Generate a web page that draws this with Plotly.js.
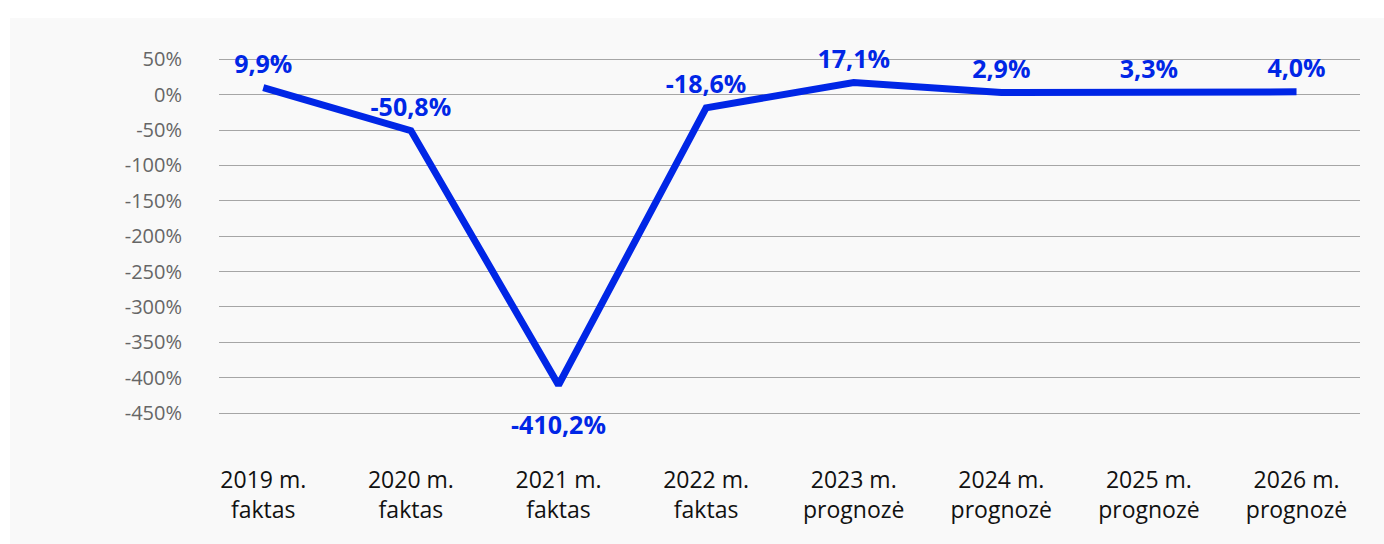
<!DOCTYPE html>
<html>
<head>
<meta charset="utf-8">
<script src="https://cdn.plot.ly/plotly-3.0.1.min.js"></script>
<style>
html,body{margin:0;padding:0;background:#ffffff;width:1384px;height:544px;overflow:hidden;}
#chart{position:absolute;left:10px;top:18px;width:1374px;height:526px;}
</style>
</head>
<body>
<div id="chart"></div>
<script>
const categories = ["2019 m.<br>faktas","2020 m.<br>faktas","2021 m.<br>faktas","2022 m.<br>faktas","2023 m.<br>prognozė","2024 m.<br>prognozė","2025 m.<br>prognozė","2026 m.<br>prognozė"];
const values = [9.9, -50.8, -410.2, -18.6, 17.1, 2.9, 3.3, 4.0];
const valueLabels = ["9,9%","-50,8%","-410,2%","-18,6%","17,1%","2,9%","3,3%","4,0%"];
const yTickVals = [50,0,-50,-100,-150,-200,-250,-300,-350,-400,-450];
const yTickText = ["50%","0%","-50%","-100%","-150%","-200%","-250%","-300%","-350%","-400%","-450%"];

const xIdx = categories.map((c,i)=>i);
const textPos = values.map(v => v < -300 ? "bottom center" : "top center");
const markerSizes = values.map(v => v < -300 ? 46 : 12);

const trace = {
  x: xIdx,
  y: values,
  mode: "lines+markers+text",
  line: {color: "#0026e6", width: 7},
  marker: {size: markerSizes, opacity: 0, color: "#0026e6"},
  text: valueLabels,
  textposition: textPos,
  textfont: {family: "Open Sans, sans-serif", size: 25, color: "#0026e6", weight: 700},
  cliponaxis: false,
  hoverinfo: "none"
};

const layout = {
  width: 1374,
  height: 526,
  paper_bgcolor: "#f9f9f9",
  plot_bgcolor: "#f9f9f9",
  margin: {l: 209, r: 24, t: 37, b: 128},
  showlegend: false,
  font: {family: "Open Sans, sans-serif"},
  xaxis: {
    range: [-0.3, 7.43],
    tickmode: "array",
    tickvals: xIdx,
    ticktext: categories,
    showgrid: false,
    zeroline: false,
    showline: false,
    ticks: "",
    tickfont: {size: 23, color: "#111111"},
    ticklabelstandoff: 48,
    fixedrange: true
  },
  yaxis: {
    range: [-454, 56],
    tickmode: "array",
    tickvals: yTickVals,
    ticktext: yTickText,
    showgrid: true,
    gridcolor: "#a6a6a6",
    gridwidth: 1,
    zeroline: false,
    showline: false,
    ticks: "",
    tickfont: {size: 20, color: "#666666"},
    ticklabelstandoff: 36,
    fixedrange: true
  }
};

Plotly.newPlot("chart", [trace], layout, {displayModeBar: false, staticPlot: true});
</script>
</body>
</html>
